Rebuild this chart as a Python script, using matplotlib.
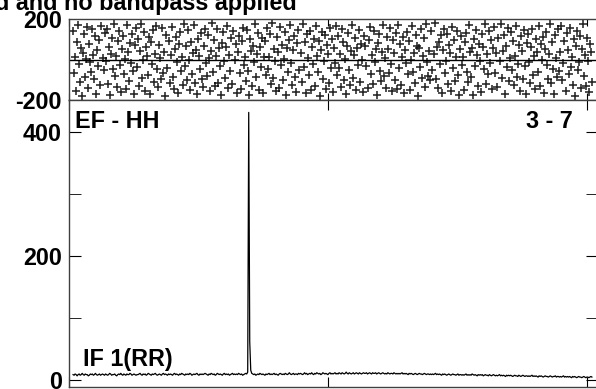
import numpy as np
import matplotlib.pyplot as plt

plt.rcParams['font.family'] = ['Liberation Sans', 'DejaVu Sans']
plt.rcParams['font.weight'] = 'bold'
plt.rcParams['axes.unicode_minus'] = False

# per-channel phase (deg) of the cross spectrum
phase = [
    143, -67, 12, -155, 88, 171, -23, -109, 56, -178, 34, 127, -88, 3, 162, -141,
    75, -12, -63, 149, 21, -97, 118, -170, 47, -31, 96, -124, 166, 8, -52, 133,
    -7, 152, -119, 64, -176, 29, 107, -45, 174, -83, 18, -138, 91, 139, -26, -161,
    52, 115, -72, 2, -147, 168, 37, -104, 81, -15, 126, -59, -168, 70, 156, -36,
    99, -129, 41, 177, -92, -4, 135, -154, 61, 15, -77, 112, -172, 85, -21, 147,
    -111, 27, 164, -49, -135, 73, 6, -98, 158, -66, 39, -179, 120, -40, 93, -117,
    24, 161, -87, -148, 54, 110, -11, -165, 79, 137, -56, 10, -126, 175, -33, 68,
    -101, 146, -2, -152, 86, -70, 31, 170, -116, 48, -169, 102, 16, -48, 130, -94,
    -137, 66, 153, -19, -81, 123, 5, -158, 44, 179, -62, 97, -131, 19, 150, -114,
    58, -30, -174, 83, 136, -9, -90, 60, 167, -143, 23, -55, 106, -121, 141, -3,
    76, -163, 35, 118, -68, -146, 90, 158, -25, 13, -107, 144, -58, -175, 101, 42,
    -133, 66, -14, 173, -84, 26, 131, -150, 63, -38, 108, -166, 14, 89, -75, 155,
    -46, 11, 128, -120, 178, -93, 53, -8, -157, 109, 38, -140, 159, -29, 72, -100,
    4, 134, -173, 57, -64, 94, 169, -18, -127, 46, 117, -86, -160, 80, 148, -53,
    33, -113, 176, -35, 84, -167, 125, 9, -76, 142, -153, 62, -20, 103, -132, 165,
    17, -61, 92, -180, 49, 138, -96, -6, 121, -145, 71, 25, -118, 157, -42, 100,
    -159, 55, -16, 163, -79, 114, -44, 28, -134, 151, 87, -103, 1, -171, 67, 132,
    -50, -125, 43, 172, -89, 20, 104, -151, 59, -27, 145, -110, 78, -1, -162, 116,
    65, -34, -142, 98, 160, -71, 22, -122, 140, -10, 51, -177, 82, 124, -57, -106,
    36, 171, -82, 7, -139, 113, 50, -65, 154, -24, -156, 95, 30, -99, 129, -144,
    170, -43, 77, -128, 14, 111, -164, 45, -17, 136, -74, 93, -149, 0, 166, -60,
    32, -115, 122, 69, -179, 58, -37, 150, -91, 18, 105, -136, 174, -13, -80, 40,
    -102, 139, -51, 25, 178, -95, 60, -141, 87, -22, 119, -167, 46, 152, -69, -5,
    127, -123, 74, 34, -156, 162, -41, 95, -108, 10, 143, -78, -174, 52, 115, -28,
    11, -150, 88, 131, -63, -112, 168, 38, -85, 57, -176, 101, -32, 148, 20, -130,
    79, -9, -160, 124, 64, -47, 177, -119, 29, -73, 141, -15, 96, -145, 55, 159,
    -66, 30, -137, 108, -8, 175, -92, 43, 119, -170, 68, -38, 156, -105, 5, 134,
    -54, 90, -128, 16, 163, -87, -21, 71, -158, 117, 42, -97, 146, -31, -171, 82,
    128, -12, -118, 61, 153, -76, 17, -147, 103, 39, -60, 167, -133, 76, -4, 113,
    -165, 50, 138, -25, -94, 27, 176, -116, 85, -45, -169, 122, 8, -84, 149, -56,
    35, 164, -103, -18, 92, -154, 131, 47, -73, 158, -39, 12, -125, 99, -178, 66,
    142, -50, -11, 118, -140, 54, 173, -82, 24, -131, 105, -7, -162, 77, 36, -111,
]

# per-channel amplitude
amp = [
    9, 8, 10, 9, 7, 9, 10, 8, 9, 11, 9, 8, 10, 9, 9, 7, 8, 10, 9, 10, 8, 9, 11, 9, 8, 9, 10, 8, 9, 10, 9, 8,
    10, 9, 8, 9, 11, 10, 8, 9, 9, 10, 8, 7, 9, 10, 9, 11, 9, 8, 10, 9, 8, 10, 9, 9, 11, 10, 8, 9, 10, 9, 8, 9,
    9, 10, 11, 9, 8, 10, 9, 10, 8, 9, 11, 10, 9, 8, 10, 9, 10, 11, 9, 8, 9, 10, 9, 8, 10, 11, 9, 10, 9, 8, 10, 9,
    10, 9, 8, 10, 11, 9, 10, 9, 8, 10, 9, 11, 10, 9, 8, 10, 9, 10, 9, 11, 10, 8, 9, 10, 9, 10, 11, 9, 8, 10, 9, 10,
    9, 10, 11, 10, 9, 8, 10, 9, 11, 10, 9, 10, 8, 9, 11, 10, 9, 10, 9, 8, 10, 11, 9, 10, 9, 10, 8, 9, 10, 11, 9, 10,
    9, 10, 9, 11, 10, 9, 10, 8, 9, 10, 11, 10, 13, 432, 62, 16, 11, 10, 9, 10, 8, 9, 10, 9, 11, 10, 9, 10, 9, 8, 10, 9,
    10, 11, 9, 10, 9, 10, 11, 9, 10, 9, 8, 10, 11, 10, 9, 10, 9, 11, 10, 9, 10, 12, 10, 9, 10, 11, 9, 10, 10, 9, 11, 10,
    11, 10, 9, 10, 12, 10, 11, 9, 10, 11, 10, 12, 10, 9, 11, 10, 12, 11, 10, 11, 9, 10, 12, 11, 10, 11, 10, 9, 11, 12, 10, 11,
    10, 11, 12, 10, 11, 10, 12, 11, 10, 12, 11, 10, 11, 13, 11, 10, 12, 11, 10, 11, 12, 10, 11, 12, 11, 10, 12, 11, 10, 11, 12, 11,
    11, 12, 10, 11, 12, 11, 10, 12, 11, 11, 12, 10, 11, 12, 11, 10, 11, 12, 11, 10, 11, 10, 12, 11, 10, 11, 11, 10, 12, 11, 10, 11,
    10, 11, 10, 11, 12, 10, 11, 10, 11, 10, 9, 11, 10, 11, 10, 9, 10, 11, 10, 9, 10, 11, 10, 10, 9, 10, 11, 10, 9, 10, 10, 9,
    10, 9, 10, 9, 10, 11, 9, 10, 9, 10, 9, 8, 10, 9, 10, 9, 8, 9, 10, 9, 8, 9, 10, 9, 9, 8, 9, 10, 8, 9, 9, 8,
    9, 8, 9, 10, 8, 9, 8, 9, 8, 10, 9, 8, 9, 8, 7, 9, 8, 9, 8, 9, 7, 8, 9, 8, 8, 7, 9, 8, 7, 8, 9, 8,
    7, 8, 7, 8, 9, 7, 8, 7, 8, 7, 6, 8, 7, 8, 7, 8, 7, 6, 7, 8, 7, 7, 6, 8, 7, 6, 7, 8, 7, 6, 7, 7,
    6, 7, 6, 7, 8, 6, 7, 6, 7, 6, 5, 7, 6, 7, 6, 5, 6, 7, 6, 6, 5, 6, 7, 6, 5, 6, 6, 7, 5, 6, 6, 5,
    6, 5, 6, 7, 5, 6, 5, 6, 5, 6, 5, 4, 6, 5, 6, 5, 4, 5, 6, 5, 5, 4, 5, 6, 5, 4, 5, 5, 4, 5, 6, 5,
]

title = 'd and no bandpass applied'
baseline_name = 'EF - HH'
scan_label = '3 - 7'
if_label = 'IF 1(RR)'

W, H = 596, 389
fs = 16.8

chan_ph = np.arange(len(phase)) + 4
chan_amp = np.arange(len(amp)) + 4

fig = plt.figure(figsize=(W / 100, H / 100), dpi=100)

# phase panel on top, amplitude panel below, sharing the channel axis
ax_ph = fig.add_axes([69 / W, 1 - 100 / H, (598 - 69) / W, 81 / H])
ax_amp = fig.add_axes([69 / W, 1 - 387 / H, (598 - 69) / W, 287 / H])

ax_ph.plot(chan_ph, phase, '+', color='black', ms=6.3, mew=1.15, alpha=0.85)
ax_ph.axhline(0, color='black', lw=1.0)
ax_ph.set_ylim(-200, 200)
ax_ph.set_yticks([-200, 200])
ax_ph.set_yticklabels(['-200', '200'])

ax_amp.plot(chan_amp, amp, color='black', lw=0.9)
ax_amp.set_ylim(-11, 452)
ax_amp.set_yticks([0, 200, 400])
ax_amp.set_yticks([100, 300], minor=True)

for ax in (ax_ph, ax_amp):
    ax.set_xlim(0, 521)
    ax.set_xticks([0, 255, 510])
    ax.set_xticklabels([])
    for s in ax.spines.values():
        s.set_linewidth(1.0)
        s.set_color('0.25')
    ax.tick_params(axis='y', labelsize=fs, pad=5)
    for lab in ax.get_yticklabels():
        lab.set_fontweight('bold')

ax_ph.tick_params(axis='x', which='both', direction='in', top=True, bottom=True, length=5)
ax_ph.tick_params(axis='y', which='both', length=0)
ax_amp.tick_params(axis='x', which='both', direction='in', top=True, bottom=True, length=7.5)
ax_amp.tick_params(axis='y', which='both', direction='in', left=True, right=True, length=8.6)

def px(x, y):
    return x / W, 1 - y / H

fig.text(*px(297, 10), title, ha='right', va='baseline', fontsize=fs, fontweight='bold')
fig.text(*px(75, 128), baseline_name, ha='left', va='baseline', fontsize=fs, fontweight='bold')
fig.text(*px(573, 128), scan_label, ha='right', va='baseline', fontsize=fs, fontweight='bold')
fig.text(*px(83, 366), if_label, ha='left', va='baseline', fontsize=fs, fontweight='bold')

fig.savefig('out.png', dpi=100)
